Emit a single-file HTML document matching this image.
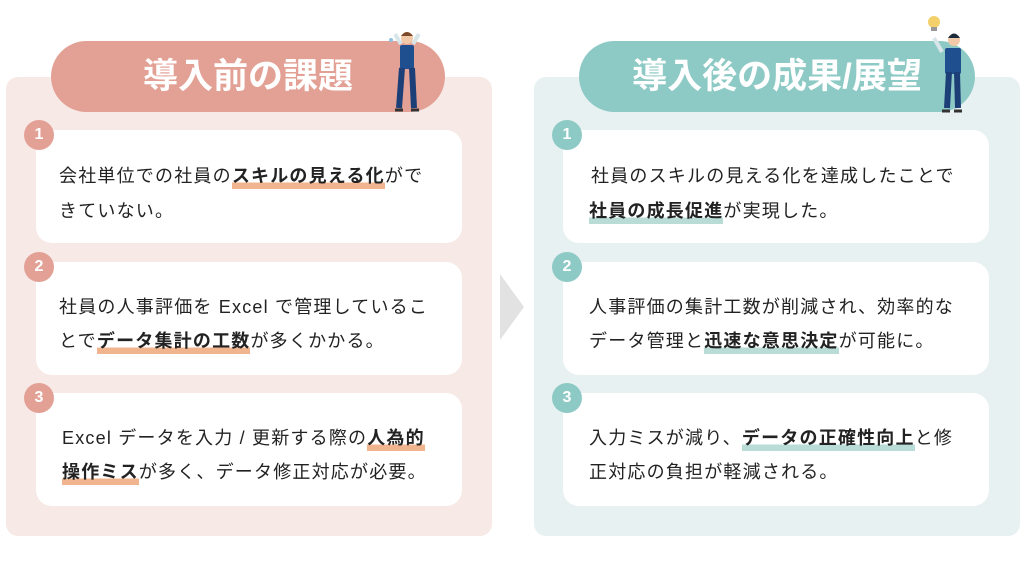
<!DOCTYPE html>
<html><head><meta charset="utf-8"><style>
*{margin:0;padding:0;box-sizing:border-box}
body{width:1024px;height:582px;background:#fff;position:relative;overflow:hidden;font-family:"Liberation Sans","Noto Sans CJK JP",sans-serif;color:#222}
.abs{position:absolute}
.panel{position:absolute;top:77px;width:486px;height:459px;border-radius:12px}
.pill{position:absolute;top:41px;height:71px;border-radius:36px;color:#fff;font-weight:bold;font-size:35px;line-height:71px;text-align:center;letter-spacing:0px}
.card{position:absolute;background:#fff;border-radius:16px;width:426px;height:113px}
.num{position:absolute;width:30px;height:30px;border-radius:50%;color:#fff;font-weight:bold;font-size:16px;line-height:30px;text-align:center}
.t{position:absolute;font-size:18px;letter-spacing:1.2px;white-space:nowrap;line-height:22px}
b{font-weight:bold}
.hl{background:linear-gradient(to bottom,transparent 72%,var(--h) 72%);padding-bottom:3px}
.L{--h:#f0b48e}.R{--h:#b9dcd6}
</style></head><body>
<div class="panel" style="left:6px;background:#f7e9e6"></div>
<div class="panel" style="left:534px;background:#e8f1f1"></div>
<svg class="abs" style="left:498px;top:272px" width="30" height="70"><polygon points="2,2 26,35 2,68" fill="#e2e2e2"/></svg>

<div class="pill" style="left:51px;width:394px;background:#e3a196">導入前の課題</div>
<div class="pill" style="left:579px;width:396px;background:#8ecac5">導入後の成果/展望</div>

<!-- figures -->
<svg class="abs" style="left:383px;top:30px" width="50" height="85">
<circle cx="24" cy="8" r="6" fill="#f2c9a8"/><path d="M18 6 q6 -8 12 0" fill="#7a4a2a"/>
<path d="M12 4 L18 14 M36 4 L30 14" stroke="#d8e6ea" stroke-width="4"/>
<rect x="17" y="15" width="14" height="24" rx="2" fill="#1f4f8f"/>
<path d="M19 38 L16 78 M29 38 L31 78" stroke="#1c3f78" stroke-width="6"/>
<path d="M12 80 h8 M28 80 h8" stroke="#333" stroke-width="3"/>
<circle cx="8" cy="10" r="2" fill="#8fc0e0"/>
</svg>
<svg class="abs" style="left:920px;top:8px" width="50" height="110">
<circle cx="14" cy="14" r="6" fill="#f3d06a"/><rect x="11" y="19" width="6" height="4" fill="#999"/>
<circle cx="34" cy="32" r="6" fill="#f2c9a8"/><path d="M28 30 q6 -9 12 0" fill="#1d2a3a"/>
<path d="M14 30 L22 44" stroke="#d8e6ea" stroke-width="4"/>
<rect x="25" y="40" width="16" height="26" rx="2" fill="#1f4f8f"/>
<path d="M29 64 L27 100 M37 64 L38 100" stroke="#1c3f78" stroke-width="6"/>
<path d="M22 103 h8 M34 103 h8" stroke="#333" stroke-width="3"/>
</svg>

<!-- left cards -->
<div class="card" style="left:36px;top:130px"></div>
<div class="card" style="left:36px;top:262px"></div>
<div class="card" style="left:36px;top:393px"></div>
<div class="num" style="left:24px;top:120px;background:#e3a196">1</div>
<div class="num" style="left:24px;top:252px;background:#e3a196">2</div>
<div class="num" style="left:24px;top:383px;background:#e3a196">3</div>
<div class="t L" style="left:59px;top:165px">会社単位での社員の<b class="hl">スキルの見える化</b>がで</div>
<div class="t L" style="left:59px;top:200px">きていない。</div>
<div class="t L" style="left:59px;top:296px">社員の人事評価を Excel で管理しているこ</div>
<div class="t L" style="left:59px;top:330px">とで<b class="hl">データ集計の工数</b>が多くかかる。</div>
<div class="t L" style="left:62px;top:427px">Excel データを入力 / 更新する際の<b class="hl">人為的</b></div>
<div class="t L" style="left:62px;top:461px"><b class="hl">操作ミス</b>が多く、データ修正対応が必要。</div>

<!-- right cards -->
<div class="card" style="left:563px;top:130px"></div>
<div class="card" style="left:563px;top:262px"></div>
<div class="card" style="left:563px;top:393px"></div>
<div class="num" style="left:552px;top:120px;background:#8ecac5">1</div>
<div class="num" style="left:552px;top:252px;background:#8ecac5">2</div>
<div class="num" style="left:552px;top:383px;background:#8ecac5">3</div>
<div class="t R" style="left:591px;top:165px">社員のスキルの見える化を達成したことで</div>
<div class="t R" style="left:589px;top:200px"><b class="hl">社員の成長促進</b>が実現した。</div>
<div class="t R" style="left:589px;top:296px">人事評価の集計工数が削減され、効率的な</div>
<div class="t R" style="left:589px;top:330px">データ管理と<b class="hl">迅速な意思決定</b>が可能に。</div>
<div class="t R" style="left:589px;top:427px">入力ミスが減り、<b class="hl">データの正確性向上</b>と修</div>
<div class="t R" style="left:589px;top:461px">正対応の負担が軽減される。</div>
</body></html>
